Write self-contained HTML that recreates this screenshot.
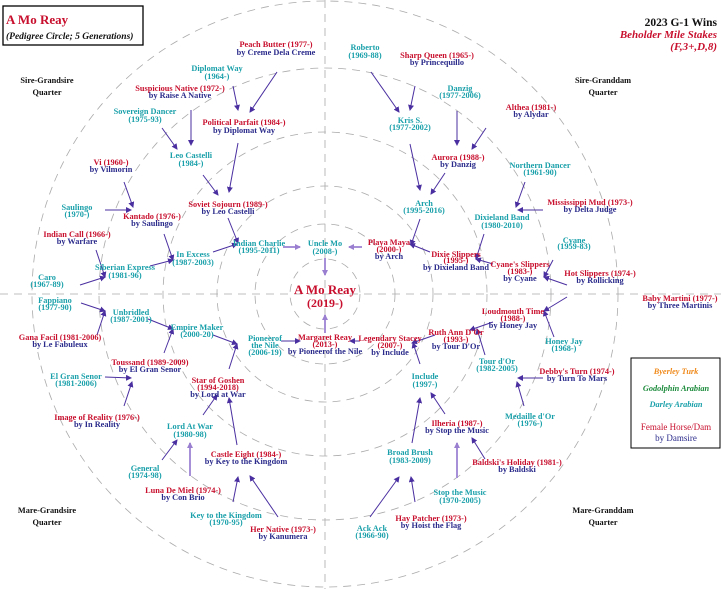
<!DOCTYPE html>
<html><head><meta charset="utf-8"><style>
html,body{margin:0;padding:0;background:#fff;}
svg{display:block;}
text{font-family:"Liberation Serif",serif;font-weight:bold;font-size:8.3px;text-anchor:middle;}
.r{fill:#c8102e}.c{fill:#1aa0aa}.b{fill:#2b2b8c}.k{fill:#111}
</style></head><body>
<svg width="721" height="589" viewBox="0 0 721 589" xmlns="http://www.w3.org/2000/svg">
<defs><marker id="a" markerWidth="6" markerHeight="6" refX="5" refY="3" orient="auto" markerUnits="userSpaceOnUse"><path d="M0,0 L6,3 L0,6 z" fill="#4a2fa0"/></marker>
<marker id="l" markerWidth="6" markerHeight="6" refX="5" refY="3" orient="auto" markerUnits="userSpaceOnUse"><path d="M0,0 L6,3 L0,6 z" fill="#9a7fd0"/></marker></defs>
<g fill="none" stroke="#aaa" stroke-width="0.8" stroke-dasharray="8,6">
<circle cx="325" cy="294" r="35"/><circle cx="325" cy="294" r="70"/><circle cx="325" cy="294" r="108"/><circle cx="325" cy="294" r="162"/><circle cx="325" cy="294" r="226"/><circle cx="325" cy="294" r="293"/>
<line x1="325" y1="0" x2="325" y2="589"/><line x1="0" y1="294" x2="721" y2="294"/>
</g>
<g stroke="#4a2fa0" stroke-width="1" marker-end="url(#a)">
<line x1="277" y1="72" x2="250" y2="112"/><line x1="233" y1="86" x2="238" y2="110"/><line x1="191" y1="110" x2="191" y2="145"/><line x1="162" y1="128" x2="177" y2="149"/><line x1="238" y1="143" x2="229" y2="192"/><line x1="203" y1="175" x2="218" y2="195"/><line x1="124" y1="182" x2="133" y2="207"/><line x1="105" y1="210" x2="131" y2="210"/><line x1="164" y1="234" x2="173" y2="260"/><line x1="228" y1="218" x2="238" y2="243"/><line x1="96" y1="250" x2="105" y2="277"/><line x1="213" y1="252" x2="237" y2="244"/><line x1="150" y1="266" x2="173" y2="260"/><line x1="80" y1="285" x2="105" y2="277"/>
<line x1="371" y1="72" x2="399" y2="112"/><line x1="415" y1="86" x2="410" y2="110"/><line x1="457" y1="111" x2="457" y2="145"/><line x1="486" y1="128" x2="472" y2="149"/><line x1="410" y1="144" x2="420" y2="190"/><line x1="445" y1="173" x2="431" y2="194"/><line x1="420" y1="219" x2="411" y2="245"/><line x1="525" y1="182" x2="516" y2="207"/><line x1="543" y1="210" x2="518" y2="210"/><line x1="484" y1="234" x2="476" y2="259"/><line x1="430" y1="252" x2="410" y2="244"/><line x1="493" y1="264" x2="476" y2="259"/><line x1="553" y1="260" x2="544" y2="277"/><line x1="567" y1="285" x2="544" y2="277"/>
<line x1="81" y1="303" x2="105" y2="311"/><line x1="97" y1="335" x2="105" y2="311"/><line x1="148" y1="319" x2="173" y2="329"/><line x1="164" y1="353" x2="173" y2="329"/><line x1="213" y1="335" x2="237" y2="344"/><line x1="229" y1="369" x2="237" y2="344"/><line x1="105" y1="377" x2="131" y2="378"/><line x1="124" y1="406" x2="132" y2="382"/><line x1="203" y1="415" x2="217" y2="395"/><line x1="237" y1="445" x2="229" y2="398"/><line x1="162" y1="460" x2="177" y2="440"/><line x1="233" y1="502" x2="238" y2="477"/><line x1="278" y1="517" x2="250" y2="476"/><line x1="281" y1="341" x2="300" y2="341"/>
<line x1="567" y1="297" x2="544" y2="311"/><line x1="554" y1="337" x2="544" y2="311"/><line x1="493" y1="322" x2="470" y2="330"/><line x1="485" y1="355" x2="477" y2="329"/><line x1="435" y1="335" x2="412" y2="343"/><line x1="420" y1="364" x2="413" y2="343"/><line x1="543" y1="378" x2="518" y2="378"/><line x1="524" y1="406" x2="517" y2="382"/><line x1="412" y1="443" x2="420" y2="398"/><line x1="445" y1="414" x2="431" y2="393"/><line x1="485" y1="459" x2="472" y2="438"/><line x1="415" y1="502" x2="411" y2="477"/><line x1="370" y1="517" x2="399" y2="477"/><line x1="360" y1="341" x2="350" y2="341"/>
</g>
<g stroke="#a890d8" stroke-width="2" marker-end="url(#l)">
<line x1="283" y1="247" x2="300" y2="247"/><line x1="325" y1="258" x2="325" y2="275"/><line x1="362" y1="247" x2="349" y2="247"/><line x1="325" y1="333" x2="325" y2="315"/><line x1="190" y1="476" x2="190" y2="443"/><line x1="457" y1="478" x2="457" y2="443"/>
</g>
<rect x="3" y="6" width="140" height="39" fill="#fff" stroke="#000" stroke-width="1.3"/>
<text x="6" y="24" class="r" style="font-size:13px;text-anchor:start">A Mo Reay</text>
<text x="6" y="39" class="k" style="font-size:9.5px;font-style:italic;text-anchor:start">(Pedigree Circle; 5 Generations)</text>
<text x="717" y="26" class="k" style="font-size:11.5px;text-anchor:end">2023 G-1 Wins</text>
<text x="717" y="38" class="r" style="font-size:11px;font-style:italic;text-anchor:end">Beholder Mile Stakes</text>
<text x="717" y="50" class="r" style="font-size:11px;font-style:italic;text-anchor:end">(F,3+,D,8)</text>
<g class="k" style="font-size:9px">
<text x="47" y="83" class="k">Sire-Grandsire</text><text x="47" y="95" class="k">Quarter</text>
<text x="603" y="83" class="k">Sire-Granddam</text><text x="603" y="95" class="k">Quarter</text>
<text x="47" y="513" class="k">Mare-Grandsire</text><text x="47" y="525" class="k">Quarter</text>
<text x="603" y="513" class="k">Mare-Granddam</text><text x="603" y="525" class="k">Quarter</text>
</g>
<rect x="631" y="358" width="89" height="90" fill="#fff" stroke="#000" stroke-width="1"/>
<text x="676" y="374" style="fill:#f08a1c;font-style:italic">Byerley Turk</text>
<text x="676" y="391" style="fill:#1a8a3a;font-style:italic">Godolphin Arabian</text>
<text x="676" y="407" style="fill:#1aa0aa;font-style:italic">Darley Arabian</text>
<text x="676" y="430" style="fill:#c8102e;font-weight:normal;font-size:9px">Female Horse/Dam</text>
<text x="676" y="441" style="fill:#2b2b8c;font-weight:normal;font-size:9px">by Damsire</text>
<text x="325" y="294" class="r" style="font-size:13px">A Mo Reay</text>
<text x="325" y="307" class="r" style="font-size:12px">(2019-)</text>
<g>
<text x="276" y="47" class="r">Peach Butter (1977-)</text><text x="276" y="55" class="b">by Creme Dela Creme</text>
<text x="217" y="71" class="c">Diplomat Way</text><text x="217" y="79" class="c">(1964-)</text>
<text x="180" y="91" class="r">Suspicious Native (1972-)</text><text x="180" y="98" class="b">by Raise A Native</text>
<text x="145" y="114" class="c">Sovereign Dancer</text><text x="145" y="122" class="c">(1975-93)</text>
<text x="244" y="125" class="r">Political Parfait (1984-)</text><text x="244" y="133" class="b">by Diplomat Way</text>
<text x="191" y="158" class="c">Leo Castelli</text><text x="191" y="166" class="c">(1984-)</text>
<text x="111" y="165" class="r">Vi (1960-)</text><text x="111" y="172" class="b">by Vilmorin</text>
<text x="228" y="207" class="r">Soviet Sojourn (1989-)</text><text x="228" y="214" class="b">by Leo Castelli</text>
<text x="77" y="210" class="c">Saulingo</text><text x="77" y="217" class="c">(1970-)</text>
<text x="152" y="219" class="r">Kantado (1976-)</text><text x="152" y="226" class="b">by Saulingo</text>
<text x="77" y="237" class="r">Indian Call (1966-)</text><text x="77" y="244" class="b">by Warfare</text>
<text x="193" y="257" class="c">In Excess</text><text x="193" y="265" class="c">(1987-2003)</text>
<text x="259" y="246" class="c">Indian Charlie</text><text x="259" y="253" class="c">(1995-2011)</text>
<text x="325" y="246" class="c">Uncle Mo</text><text x="325" y="254" class="c">(2008-)</text>
<text x="125" y="270" class="c">Siberian Express</text><text x="125" y="278" class="c">(1981-96)</text>
<text x="47" y="280" class="c">Caro</text><text x="47" y="287" class="c">(1967-89)</text>
<text x="365" y="50" class="c">Roberto</text><text x="365" y="58" class="c">(1969-88)</text>
<text x="437" y="58" class="r">Sharp Queen (1965-)</text><text x="437" y="65" class="b">by Princequillo</text>
<text x="460" y="91" class="c">Danzig</text><text x="460" y="98" class="c">(1977-2006)</text>
<text x="410" y="123" class="c">Kris S.</text><text x="410" y="130" class="c">(1977-2002)</text>
<text x="531" y="110" class="r">Althea (1981-)</text><text x="531" y="117" class="b">by Alydar</text>
<text x="458" y="160" class="r">Aurora (1988-)</text><text x="458" y="167" class="b">by Danzig</text>
<text x="540" y="168" class="c">Northern Dancer</text><text x="540" y="175" class="c">(1961-90)</text>
<text x="424" y="206" class="c">Arch</text><text x="424" y="213" class="c">(1995-2016)</text>
<text x="590" y="205" class="r">Mississippi Mud (1973-)</text><text x="590" y="212" class="b">by Delta Judge</text>
<text x="502" y="220" class="c">Dixieland Band</text><text x="502" y="228" class="c">(1980-2010)</text>
<text x="389" y="245" class="r">Playa Maya</text><text x="389" y="252" class="r">(2000-)</text><text x="389" y="259" class="b">by Arch</text>
<text x="456" y="257" class="r">Dixie Slippers</text><text x="456" y="263" class="r">(1995-)</text><text x="456" y="270" class="b">by Dixieland Band</text>
<text x="574" y="243" class="c">Cyane</text><text x="574" y="249" class="c">(1959-83)</text>
<text x="520" y="267" class="r">Cyane's Slippers</text><text x="520" y="274" class="r">(1983-)</text><text x="520" y="281" class="b">by Cyane</text>
<text x="600" y="276" class="r">Hot Slippers (1974-)</text><text x="600" y="283" class="b">by Rollicking</text>
<text x="55" y="303" class="c">Fappiano</text><text x="55" y="310" class="c">(1977-90)</text>
<text x="680" y="301" class="r">Baby Martini (1977-)</text><text x="680" y="308" class="b">by Three Martinis</text>
<text x="131" y="315" class="c">Unbridled</text><text x="131" y="322" class="c">(1987-2001)</text>
<text x="60" y="340" class="r">Gana Facil (1981-2006)</text><text x="60" y="347" class="b">by Le Fabuleux</text>
<text x="197" y="330" class="c">Empire Maker</text><text x="197" y="337" class="c">(2000-20)</text>
<text x="265" y="341" class="c">Pioneerof</text><text x="265" y="348" class="c">the Nile</text><text x="265" y="355" class="c">(2006-19)</text>
<text x="325" y="340" class="r">Margaret Reay</text><text x="325" y="347" class="r">(2013-)</text><text x="325" y="354" class="b">by Pioneerof the Nile</text>
<text x="390" y="341" class="r">Legendary Stacey</text><text x="390" y="348" class="r">(2007-)</text><text x="390" y="355" class="b">by Include</text>
<text x="456" y="335" class="r">Ruth Ann D'Or</text><text x="456" y="342" class="r">(1993-)</text><text x="456" y="349" class="b">by Tour D'Or</text>
<text x="513" y="314" class="r">Loudmouth Time</text><text x="513" y="321" class="r">(1988-)</text><text x="513" y="328" class="b">by Honey Jay</text>
<text x="564" y="344" class="c">Honey Jay</text><text x="564" y="351" class="c">(1968-)</text>
<text x="497" y="364" class="c">Tour d'Or</text><text x="497" y="371" class="c">(1982-2005)</text>
<text x="577" y="374" class="r">Debby's Turn (1974-)</text><text x="577" y="381" class="b">by Turn To Mars</text>
<text x="425" y="379" class="c">Include</text><text x="425" y="387" class="c">(1997-)</text>
<text x="76" y="379" class="c">El Gran Senor</text><text x="76" y="386" class="c">(1981-2006)</text>
<text x="150" y="365" class="r">Toussand (1989-2009)</text><text x="150" y="372" class="b">by El Gran Senor</text>
<text x="218" y="383" class="r">Star of Goshen</text><text x="218" y="390" class="r">(1994-2018)</text><text x="218" y="397" class="b">by Lord at War</text>
<text x="97" y="420" class="r">Image of Reality (1976-)</text><text x="97" y="427" class="b">by In Reality</text>
<text x="530" y="419" class="c">Medaille d'Or</text><text x="530" y="426" class="c">(1976-)</text>
<text x="190" y="429" class="c">Lord At War</text><text x="190" y="437" class="c">(1980-98)</text>
<text x="457" y="426" class="r">Ilheria (1987-)</text><text x="457" y="433" class="b">by Stop the Music</text>
<text x="246" y="457" class="r">Castle Eight (1984-)</text><text x="246" y="464" class="b">by Key to the Kingdom</text>
<text x="410" y="455" class="c">Broad Brush</text><text x="410" y="463" class="c">(1983-2009)</text>
<text x="517" y="465" class="r">Baldski's Holiday (1981-)</text><text x="517" y="472" class="b">by Baldski</text>
<text x="145" y="471" class="c">General</text><text x="145" y="478" class="c">(1974-98)</text>
<text x="183" y="493" class="r">Luna De Miel (1974-)</text><text x="183" y="500" class="b">by Con Brio</text>
<text x="460" y="495" class="c">Stop the Music</text><text x="460" y="503" class="c">(1970-2005)</text>
<text x="226" y="518" class="c">Key to the Kingdom</text><text x="226" y="525" class="c">(1970-95)</text>
<text x="372" y="531" class="c">Ack Ack</text><text x="372" y="538" class="c">(1966-90)</text>
<text x="283" y="532" class="r">Her Native (1973-)</text><text x="283" y="539" class="b">by Kanumera</text>
<text x="431" y="521" class="r">Hay Patcher (1973-)</text><text x="431" y="528" class="b">by Hoist the Flag</text>
</g>
</svg>
</body></html>
